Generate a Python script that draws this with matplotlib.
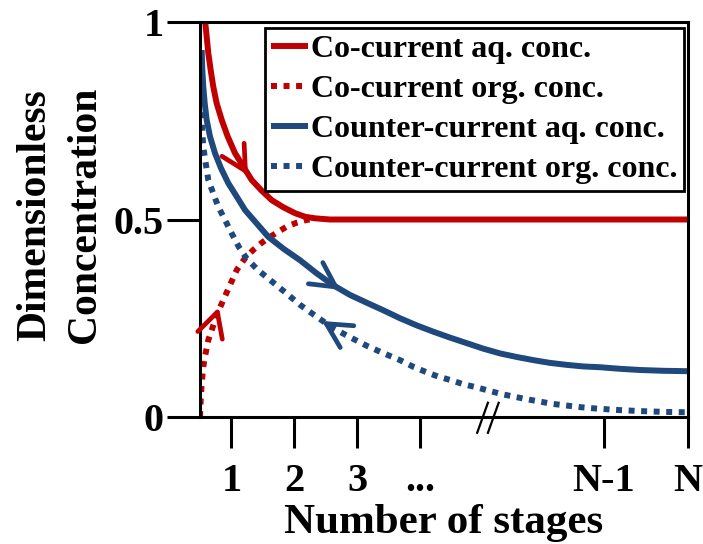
import matplotlib
matplotlib.use("Agg")
import matplotlib.pyplot as plt

plt.rcParams['font.family'] = ['Liberation Serif', 'DejaVu Serif']
plt.rcParams['font.weight'] = 'bold'

# ---- data (stage position, dimensionless concentration) ----
co_aq_x = [0.579, 0.606, 0.632, 0.670, 0.711, 0.765, 0.845, 0.940, 1.056, 1.188,
           1.321, 1.480, 1.639, 1.823, 2.009, 2.167, 2.326, 2.564, 8.25]
co_aq_y = [1.005, 0.963, 0.921, 0.878, 0.836, 0.794, 0.752, 0.710, 0.668, 0.634,
           0.600, 0.573, 0.549, 0.531, 0.516, 0.507, 0.503, 0.500, 0.500]

co_org_x = [0.500, 0.511, 0.527, 0.552, 0.579, 0.632, 0.686, 0.765, 0.870, 0.976,
            1.083, 1.215, 1.346, 1.480, 1.612, 1.743, 1.877, 2.036, 2.194, 2.294]
co_org_y = [0.000, 0.043, 0.085, 0.127, 0.153, 0.195, 0.220, 0.258, 0.296, 0.334,
            0.372, 0.402, 0.423, 0.441, 0.456, 0.469, 0.482, 0.492, 0.499, 0.500]

cc_aq_x = [0.527, 0.537, 0.552, 0.575, 0.606, 0.659, 0.738, 0.833, 0.949, 1.083,
           1.215, 1.400, 1.585, 1.834, 2.088, 2.342, 2.612, 2.882, 3.152, 3.414,
           3.676, 3.941, 4.205, 4.470, 4.735, 4.999, 5.264, 5.529, 5.793, 6.058,
           6.323, 6.587, 6.852, 7.170, 7.487, 7.860, 8.234]
cc_aq_y = [0.929, 0.878, 0.836, 0.794, 0.752, 0.710, 0.668, 0.630, 0.592, 0.558,
           0.524, 0.490, 0.456, 0.425, 0.397, 0.365, 0.334, 0.309, 0.289, 0.270,
           0.250, 0.232, 0.216, 0.201, 0.187, 0.173, 0.161, 0.152, 0.144, 0.137,
           0.132, 0.128, 0.126, 0.122, 0.119, 0.117, 0.116]

cc_org_x = [0.500, 0.527, 0.552, 0.591, 0.632, 0.711, 0.791, 0.897, 1.003, 1.119,
            1.246, 1.421, 1.612, 1.850, 2.088, 2.342, 2.612, 2.882, 3.152, 3.406,
            3.676, 3.888, 4.073, 4.285, 4.470, 4.682, 4.894, 5.079, 5.291, 5.502,
            5.688, 5.899, 6.111, 6.323, 6.535, 6.746, 7.100, 7.487, 7.860, 8.234]
cc_org_y = [0.803, 0.744, 0.684, 0.642, 0.600, 0.566, 0.532, 0.499, 0.465, 0.430,
            0.400, 0.372, 0.347, 0.316, 0.284, 0.255, 0.225, 0.202, 0.180, 0.162,
            0.144, 0.127, 0.115, 0.102, 0.094, 0.083, 0.075, 0.067, 0.058, 0.051,
            0.045, 0.039, 0.033, 0.029, 0.025, 0.022, 0.018, 0.015, 0.013, 0.012]

x_ticks = [1, 2, 3, 4, 6.916, 8.25]
x_ticklabels = ['1', '2', '3', '...', 'N-1', 'N']
y_ticks = [0, 0.5, 1]
y_ticklabels = ['0', '0.5', '1']

labels = ['Co-current aq. conc.', 'Co-current org. conc.',
          'Counter-current aq. conc.', 'Counter-current org. conc.']

RED = '#C00000'
BLUE = '#1F497D'

W, H = 703, 544
fig = plt.figure(figsize=(W / 100, H / 100), dpi=100)
ax = fig.add_axes([200 / W, 1 - 417 / H, 488 / W, 395 / H])

lw = 4.3
dot = (0, (1, 1.1))
l1, = ax.plot(co_aq_x, co_aq_y, color=RED, lw=lw, solid_capstyle='butt', solid_joinstyle='round')
l2, = ax.plot(co_org_x, co_org_y, color=RED, lw=lw, linestyle=dot, dash_capstyle='butt')
l3, = ax.plot(cc_aq_x, cc_aq_y, color=BLUE, lw=lw, solid_capstyle='butt', solid_joinstyle='round')
l4, = ax.plot(cc_org_x, cc_org_y, color=BLUE, lw=lw, linestyle=dot, dash_capstyle='butt')

# direction arrows (open chevrons along the curves)
arrows = [
    ((1.262, 0.612), (1.056, 0.668), RED),
    ((0.800, 0.278), (0.686, 0.220), RED),
    ((2.723, 0.322), (2.374, 0.360), BLUE),
    ((2.437, 0.243), (2.800, 0.207), BLUE),
]
for tip, tail, c in arrows:
    f = 0.35
    short_tail = (tip[0] + f * (tail[0] - tip[0]), tip[1] + f * (tail[1] - tip[1]))
    ax.annotate('', xy=tip, xytext=short_tail,
                arrowprops=dict(arrowstyle='->,head_length=0.8,head_width=0.42',
                                color=c, lw=3.4, shrinkA=0, shrinkB=0,
                                mutation_scale=22),
                zorder=5)

ax.set_xlim(0.5, 8.25)
ax.set_ylim(0, 1)
ax.set_xticks(x_ticks)
ax.set_xticklabels(x_ticklabels)
ax.set_yticks(y_ticks)
ax.set_yticklabels(y_ticklabels)

for s in ax.spines.values():
    s.set_linewidth(2.2)
ax.tick_params(axis='both', direction='out', width=2.2, labelsize=29)
ax.tick_params(axis='x', length=22, pad=11)
ax.tick_params(axis='y', length=24, pad=2)

# axis break mark
for dx in (0.0, 0.022):
    ax.plot([0.568 + dx, 0.590 + dx], [-0.040, 0.036], color='black', lw=1.6,
            transform=ax.transAxes, clip_on=False)

fig.text(443.5 / W, 1 - 523 / H, 'Number of stages', fontsize=31, fontweight='bold',
         ha='center', va='center')
fig.text(60 / W, 1 - 215 / H, 'Dimensionless\nConcentration', fontsize=30,
         fontweight='bold', rotation=90, ha='center', va='center', linespacing=1.38)

leg = ax.legend([l1, l2, l3, l4], labels, loc='upper right',
                bbox_to_anchor=(684 / W, 1 - 28 / H), bbox_transform=fig.transFigure,
                fontsize=23, frameon=True, fancybox=False, framealpha=1,
                edgecolor='black', borderaxespad=0, borderpad=0.2,
                labelspacing=0.34, handlelength=1.15, handletextpad=0.1)
leg.get_frame().set_linewidth(2.0)

fig.savefig('out.png', dpi=100)
